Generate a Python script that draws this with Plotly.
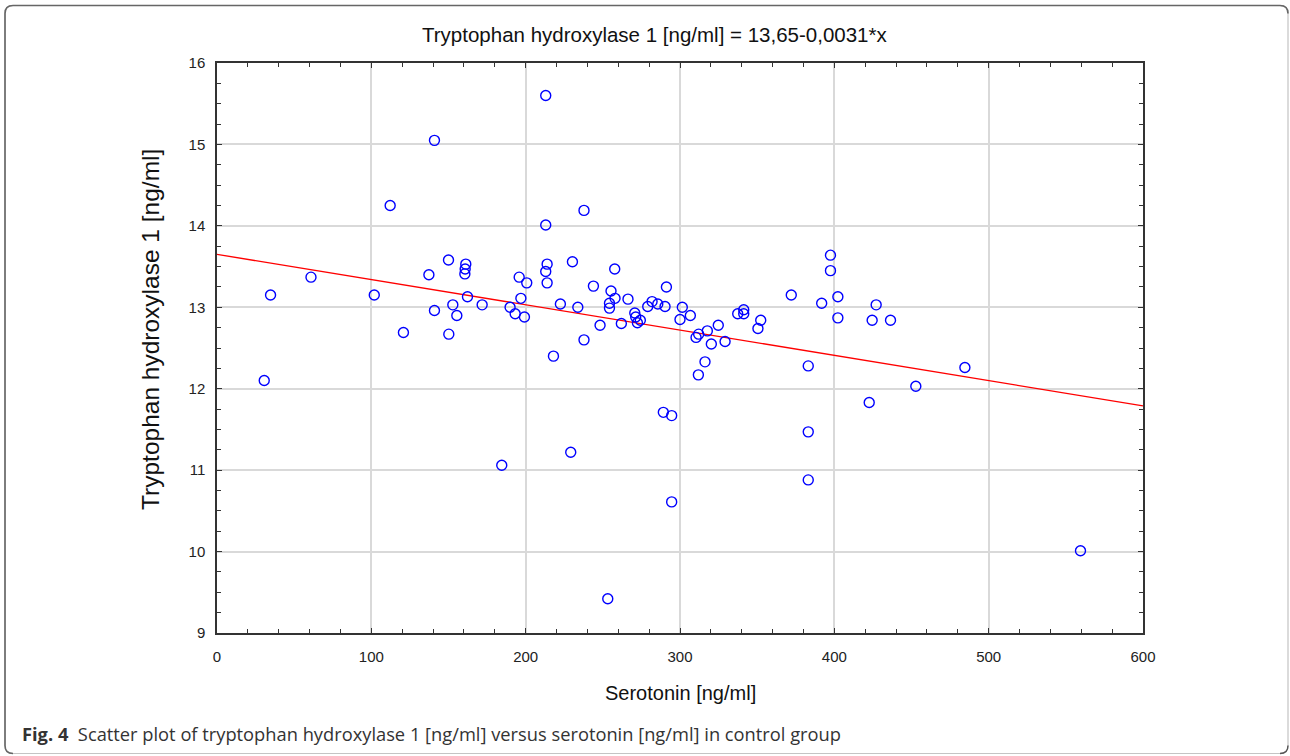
import plotly.graph_objects as go

# Data
serotonin = [30.6, 34.7, 60.9, 101.9, 112.2, 120.8, 137.3, 140.9, 140.9, 150.0,
             150.2, 152.8, 155.4, 160.6, 160.8, 161.2, 162.3, 171.8, 184.5, 189.9,
             193.2, 195.8, 196.9, 199.2, 200.7, 213.0, 213.0, 213.9, 213.0, 213.9,
             218.0, 222.5, 229.2, 230.3, 233.8, 237.8, 237.8, 243.9, 248.2, 253.2,
             254.3, 254.3, 255.3, 257.7, 257.9, 262.0, 266.3, 270.7, 271.3, 272.4,
             274.3, 279.1, 281.9, 285.6, 289.2, 290.3, 291.2, 294.6, 294.6, 300.0,
             301.5, 306.7, 310.4, 311.9, 312.1, 316.2, 317.7, 320.3, 324.8, 329.2,
             337.4, 341.3, 341.3, 350.5, 352.3, 372.1, 383.1, 383.1, 383.1, 391.8,
             397.5, 397.5, 402.3, 402.3, 422.6, 424.5, 427.1, 436.4, 452.8, 484.6,
             559.5]
tph1 = [12.10, 13.15, 13.37, 13.15, 14.25, 12.69, 13.40, 15.05, 12.96, 13.58,
        12.67, 13.03, 12.90, 13.41, 13.47, 13.53, 13.13, 13.03, 11.06, 13.00,
        12.92, 13.37, 13.11, 12.88, 13.30, 15.60, 14.01, 13.53, 13.44, 13.30,
        12.40, 13.04, 11.22, 13.56, 13.00, 14.19, 12.60, 13.26, 12.78, 9.42,
        13.05, 12.99, 13.20, 13.47, 13.11, 12.80, 13.10, 12.93, 12.88, 12.81,
        12.84, 13.01, 13.07, 13.04, 11.71, 13.01, 13.25, 11.67, 10.61, 12.85,
        13.00, 12.90, 12.63, 12.17, 12.67, 12.33, 12.71, 12.55, 12.78, 12.58,
        12.92, 12.97, 12.92, 12.74, 12.84, 13.15, 12.28, 11.47, 10.88, 13.05,
        13.64, 13.45, 13.13, 12.87, 11.83, 12.84, 13.03, 12.84, 12.03, 12.26,
        10.01]
intercept = 13.65
slope = -0.0031
line_x = [0, 600]
x_ticks = [0, 100, 200, 300, 400, 500, 600]
y_ticks = [9, 10, 11, 12, 13, 14, 15, 16]

title_text = "Tryptophan hydroxylase 1 [ng/ml] = 13,65-0,0031*x"
x_title = "Serotonin [ng/ml]"
y_title = "Tryptophan hydroxylase 1 [ng/ml]"
caption = "<b>Fig. 4</b>\u00a0\u00a0Scatter plot of tryptophan hydroxylase 1 [ng/ml] versus serotonin [ng/ml] in control group"

W, H = 1290, 756
L, R, T, B = 217, 1143, 63, 633


def X(px):
    return (px - L) / (R - L)


def Y(py):
    return (B - py) / (B - T)


fig = go.Figure()
fig.add_trace(go.Scatter(
    x=line_x, y=[intercept + slope * v for v in line_x], mode="lines",
    line=dict(color="#ff0000", width=1.3), hoverinfo="skip"))
fig.add_trace(go.Scatter(
    x=serotonin, y=tph1, mode="markers",
    marker=dict(symbol="circle-open", size=10, color="#0000ff",
                line=dict(width=1.4, color="#0000ff"))))

axis_common = dict(
    showline=True, linecolor="#333333", linewidth=1.5, mirror="ticks",
    ticks="inside", ticklen=5, tickwidth=1.2, tickcolor="#333333",
    showgrid=True, gridcolor="#d9d9d9", gridwidth=1.5, zeroline=False,
    tickfont=dict(family="Liberation Sans", size=15, color="#222222"),
)

fig.update_xaxes(range=[0, 600], tickvals=x_ticks,
                 minor=dict(dtick=20, ticks="inside", ticklen=4, tickcolor="#333333", showgrid=False),
                 ticklabelstandoff=9, **axis_common)
fig.update_yaxes(range=[9, 16], tickvals=y_ticks,
                 minor=dict(dtick=0.25, ticks="inside", ticklen=4, tickcolor="#333333", showgrid=False),
                 ticklabelstandoff=7, **axis_common)

ann_font = dict(family="Liberation Sans", color="#111111")
annotations = [
    dict(text=title_text, x=X(655), y=Y(34), xref="paper", yref="paper",
         showarrow=False, font=dict(size=20.5, **ann_font), xanchor="center", yanchor="middle"),
    dict(text=x_title, x=X(680), y=Y(693), xref="paper", yref="paper",
         showarrow=False, font=dict(size=20, **ann_font), xanchor="center", yanchor="middle"),
    dict(text=y_title, x=X(150), y=Y(330), xref="paper", yref="paper", textangle=-90,
         showarrow=False, font=dict(size=24.5, **ann_font), xanchor="center", yanchor="middle"),
    dict(text=caption, x=X(20), y=Y(733), xref="paper", yref="paper",
         showarrow=False, font=dict(family="Open Sans", size=18.3, color="#333333"),
         xanchor="left", yanchor="middle"),
]

r = 8
x0, x1, y0, y1 = 5, 1288, 5.5, 753.5


def P(px, py):
    return f"{X(px):.5f},{Y(py):.5f}"


light_path = (f"M {P(x0 + r, y0)} L {P(x1 - r, y0)} Q {P(x1, y0)} {P(x1, y0 + r)} "
              f"L {P(x1, y1 - r)} Q {P(x1, y1)} {P(x1 - r, y1)} "
              f"L {P(x0 + r, y1)} Q {P(x0, y1)} {P(x0, y1 - r)} "
              f"L {P(x0, y0 + r)} Q {P(x0, y0)} {P(x0 + r, y0)}")
dark_path = (f"M {P(x0 + r, y1)} Q {P(x0, y1)} {P(x0, y1 - r)} "
             f"L {P(x0, y0 + r)} Q {P(x0, y0)} {P(x0 + r, y0)} "
             f"L {P(x1 - r, y0)} Q {P(x1, y0)} {P(x1, y0 + r)}")
corner_br = f"M {P(x1, y1 - r)} Q {P(x1, y1)} {P(x1 - r, y1)}"

shapes = [
    dict(type="path", path=light_path, xref="paper", yref="paper",
         line=dict(color="#c4c4c4", width=1.2), layer="below"),
    dict(type="path", path=dark_path, xref="paper", yref="paper",
         line=dict(color="#666666", width=1.6), layer="above"),
    dict(type="path", path=corner_br, xref="paper", yref="paper",
         line=dict(color="#555555", width=1.4), layer="above"),
]

fig.update_layout(
    width=W, height=H, autosize=False,
    margin=dict(l=L, r=W - R, t=T, b=H - B, pad=0),
    paper_bgcolor="white", plot_bgcolor="white",
    showlegend=False, annotations=annotations, shapes=shapes,
    hovermode=False,
)

fig.write_html("out.html", config={"displayModeBar": False},
               post_script="document.body.style.margin='0';document.body.style.overflow='hidden';")
